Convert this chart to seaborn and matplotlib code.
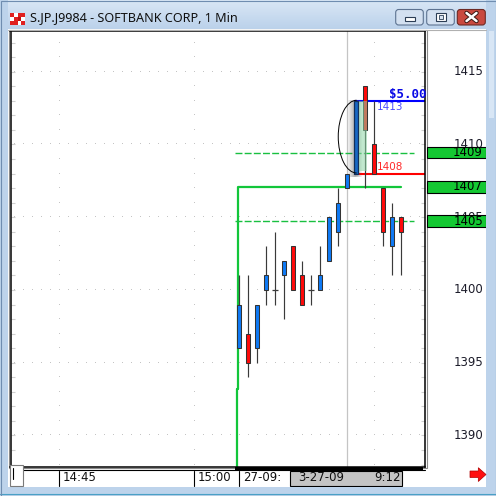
import matplotlib
matplotlib.use("Agg")
import matplotlib.pyplot as plt
import seaborn as sns
import numpy as np
from matplotlib.patches import Rectangle, Arc, Polygon, FancyBboxPatch
from matplotlib import transforms

# ---- 1-minute bars, 3-27-09 (bar 0 = 09:00) ----
bar_index = list(range(19))
opens  = [1396, 1397, 1396, 1400, 1400, 1401, 1403, 1401, 1400, 1400, 1402, 1404, 1407, 1408, 1414, 1410, 1407, 1403, 1405]
highs  = [1401, 1401, 1399, 1403, 1404, 1402, 1403, 1402, 1401, 1403, 1405, 1407, 1408, 1413, 1414, 1413, 1407, 1406, 1405]
lows   = [1396, 1394, 1395, 1399, 1399, 1398, 1400, 1399, 1399, 1400, 1402, 1403, 1407, 1408, 1407, 1408, 1403, 1401, 1401]
closes = [1399, 1395, 1399, 1401, 1400, 1402, 1400, 1399, 1400, 1401, 1405, 1406, 1408, 1413, 1411, 1408, 1404, 1405, 1404]
selected_bar = 13
cursor_bar = 12

# ---- study / order levels ----
avg_levels = [1409.44, 1404.72]          # dashed green studies
avg_span = [-0.48, 19.44]
stop_x = [-0.29, -0.29, -0.18, -0.18, 17.97]   # green trailing line
stop_y = [1387.0, 1393.2, 1393.2, 1407.1, 1407.1]
target_price = 1413
target_text = "$5.00"
entry_price = 1408
order_start = 12.9

# ---- axes labels ----
price_ticks = [1390, 1395, 1400, 1405, 1410, 1415]
time_ticks = [-20, -5, 0]
time_labels = ["14:45", "15:00", "27-09:"]
cursor_date, cursor_time = "3-27-09", "9:12"
title = "S.JP.J9984 - SOFTBANK CORP, 1 Min"

sns.set_style("white")
plt.rcParams["font.family"] = ["DejaVu Sans"]

W = H = 496
fig = plt.figure(figsize=(W / 100, H / 100), dpi=100)
fig.patch.set_facecolor("white")


def px_rect(x0, y0, x1, y1, z=1, **kw):
    kw.setdefault("lw", 0)
    r = Rectangle((x0 / W, 1 - y1 / H), (x1 - x0) / W, (y1 - y0) / H,
                  transform=fig.transFigure, zorder=z, **kw)
    fig.patches.append(r)
    return r


def px_line(xs, ys, z=2, **kw):
    fig.lines.append(plt.Line2D([x / W for x in xs], [1 - y / H for y in ys],
                                transform=fig.transFigure, zorder=z, **kw))


# ---------- window chrome ----------
frame_col = "#bdd3eb"
top_c = np.array([0xd8, 0xe6, 0xf5]) / 255
bot_c = np.array([0xbb, 0xd1, 0xea]) / 255
for i in range(29):
    t = i / 28
    px_rect(0, i, W, i + 1, color=tuple(top_c * (1 - t) + bot_c * t))
px_rect(0, 0, 8, H, color=frame_col)
px_rect(486, 0, W, H, color=frame_col)
px_rect(0, 487, W, H, color=frame_col)
px_rect(488.5, 31, 493.5, 118, color="#d8e6f5")
px_line([0, W], [493.8, 493.8], color="#4aa0c6", lw=0.8)
px_rect(0.5, 0.5, W - 0.5, H - 0.5, fill=False, lw=0.8, edgecolor="#6f8db0", z=3)
px_line([8, 486], [29.6, 29.6], color="#b0b0b0", lw=0.8)

# title icon
for (ix, iy, c) in [(10, 13, "#e02020"), (14, 13, "#ffffff"), (18, 13, "#e02020"), (21, 13, "#e02020"),
                    (10, 17, "#ffffff"), (14, 17, "#e02020"), (18, 17, "#c01010"), (21, 17, "#ffffff"),
                    (10, 21, "#e02020"), (14, 21, "#e02020"), (18, 21, "#ffffff"), (21, 21, "#e02020")]:
    px_rect(ix, iy, ix + 3.5, iy + 3.5, color=c, z=3)
fig.text(30 / W, 1 - 17.5 / H, title, fontsize=9.1, family="Noto Sans",
         color="#101010", va="center", ha="left")

# caption buttons
for (x0, x1, fc, ec) in [(395.7, 423.3, "#d3e0f0", "#5d7391"),
                         (426.7, 454.3, "#d3e0f0", "#5d7391"),
                         (457.3, 485.3, "#c9493f", "#6d2a24")]:
    b = FancyBboxPatch((x0 / W, 1 - 25 / H), (x1 - x0) / W, 15.5 / H,
                       boxstyle="round,pad=0,rounding_size=0.006",
                       transform=fig.transFigure, fc=fc, ec=ec, lw=0.8, zorder=3)
    fig.patches.append(b)
px_rect(404.5, 17, 414.5, 21, fc="white", ec="#2c3e55", lw=0.8, z=4)
px_rect(436, 12.5, 445.5, 21, fc="white", ec="#2c3e55", lw=0.8, z=4)
px_rect(438.5, 15.5, 443, 18.5, fc="#d7e3f1", ec="#2c3e55", lw=0.6, z=4)
px_line([466.5, 476.5], [13, 21], color="#3a1a16", lw=3.2, z=4)
px_line([466.5, 476.5], [21, 13], color="#3a1a16", lw=3.2, z=4)
px_line([466.5, 476.5], [13, 21], color="white", lw=1.8, z=5)
px_line([466.5, 476.5], [21, 13], color="white", lw=1.8, z=5)

# ---------- price pane ----------
x_left, x_right = 10.5, 425.5
y_top, y_bot = 31, 467
ax = fig.add_axes([x_left / W, 1 - y_bot / H, (x_right - x_left) / W, (y_bot - y_top) / H])
ax.set_facecolor("white")
ax.set_xlim(-25.42, 20.69)
ax.set_ylim(1387.835, 1417.80)
for s in ax.spines.values():
    s.set_color("black")
    s.set_linewidth(1.1)
px_rect(9.2, 29.9, 426.6, 468, fill=False, lw=0.8, edgecolor="#8a8a8a", z=-0.5)

ax.set_xticks([])
ax.set_yticks(price_ticks)
ax.set_yticks(np.arange(1388, 1418), minor=True)
ax.tick_params(axis="y", which="both", direction="in", length=3, width=0.8,
               color="#cfcfcf", left=True, right=True, labelleft=False, labelright=False)

# dotted grid (one dot per bar / per price unit)
grid_x = np.arange(-25, 21)
for p in price_ticks:
    ax.plot(grid_x, [p] * len(grid_x), ls="none", marker=",", color="#c4c4c4", zorder=0.5)
grid_p = np.arange(1388, 1418)
for k in [-20, -5, 15]:
    ax.plot([k] * len(grid_p), grid_p, ls="none", marker=",", color="#c4c4c4", zorder=0.5)

# cursor
ax.axvline(cursor_bar, color="#c4c4c4", lw=0.9, zorder=1)

# green trailing line and dashed studies
sns.lineplot(x=stop_x, y=stop_y, sort=False, estimator=None, color="#12c63a", lw=1.6, ax=ax, zorder=2)
for lvl in avg_levels:
    ax.plot(avg_span, [lvl, lvl], color="#19c040", lw=1.0, dashes=(5, 1.6), zorder=2)

# order lines
ax.plot([order_start, 22], [target_price] * 2, color="#0000ff", lw=1.5, zorder=2.5)
ax.plot([order_start, 22], [entry_price] * 2, color="#ff0000", lw=1.5, zorder=2.5)

# candles
blue, red, edge = "#0f7af5", "#ff0a0a", "#333333"
ax.vlines(bar_index, lows, highs, color="#3a3a3a", lw=0.85, zorder=3)
for k, o, c in zip(bar_index, opens, closes):
    if o == c:
        ax.hlines(o, k - 0.32, k + 0.32, color="#3a3a3a", lw=0.9, zorder=3.2)
        continue
    if k == selected_bar:
        continue
    ax.bar(k, abs(c - o), bottom=min(o, c), width=0.42, color=blue if c > o else red,
           edgecolor=edge, linewidth=0.75, zorder=3.1)

# highlighted bar: drop shadow, body, green glow
so, sc = opens[selected_bar], closes[selected_bar]
for i in range(7):
    ax.add_patch(Rectangle((selected_bar - 0.88 + i * 0.1, so - 0.25), 0.9, sc - so + 0.3,
                           color="#505050", alpha=0.07, lw=0, zorder=3.3))
ax.bar(selected_bar, sc - so, bottom=so, width=0.44, color="#1767c4",
       edgecolor="#12305a", linewidth=0.9, zorder=3.5)
ax.add_patch(Rectangle((selected_bar + 0.3, so + 0.2), 0.92, sc - so - 0.2,
                       color="#8fd6a6", alpha=0.55, lw=0, zorder=3.6))
ax.add_patch(Arc((selected_bar + 0.04, (so + sc) / 2 + 0.04), 4.09, sc - so,
                 theta1=90, theta2=270, color="black", lw=0.7, zorder=3.7))

# order labels
ax.text(20.8, target_price + 0.47, target_text, ha="right", va="center", fontsize=9,
        family="DejaVu Sans Mono", weight="bold", color="#0a0ae6", zorder=6, clip_on=False)
ax.text(15.33, target_price - 0.4, str(target_price), ha="left", va="center",
        fontsize=7.5, color="#4a4aff", zorder=6)
ax.text(15.33, entry_price + 0.47, str(entry_price), ha="left", va="center",
        fontsize=7.5, color="#ff2a2a", zorder=6)

# ---------- right price scale ----------
blend_y = transforms.blended_transform_factory(fig.transFigure, ax.transData)
for p in price_ticks:
    ax.text(483.5 / W, p, str(p), transform=blend_y, ha="right", va="center",
            fontsize=8.5, color="#1c1c2a", clip_on=False, zorder=6)
box_h = 11.7 / 14.55
for lvl in [avg_levels[0], stop_y[-1], avg_levels[1]]:
    ax.add_patch(Rectangle((427.3 / W, lvl - box_h / 2), 58.4 / W, box_h, transform=blend_y,
                           fc="#14c832", ec="black", lw=0.8, clip_on=False, zorder=7))
    ax.text(483 / W, lvl, str(round(lvl)), transform=blend_y, ha="right", va="center",
            fontsize=8.5, color="black", clip_on=False, zorder=8)

# ---------- time scale ----------
blend_x = transforms.blended_transform_factory(ax.transData, fig.transFigure)
px_line([23, 425], [469.5, 469.5], color="black", lw=0.8, z=2)
px_rect(235, 466.5, 423.3, 470, color="black", z=2)
for k, lab in zip(time_ticks, time_labels):
    ax.plot([k, k], [1 - 471 / H, 1 - 486 / H], transform=blend_x, color="black",
            lw=0.8, clip_on=False)
    ax.text(k + 0.38, 1 - 477.5 / H, lab, transform=blend_x, ha="left", va="center",
            fontsize=8.5, color="#101010", clip_on=False)
ax.add_patch(Rectangle((cursor_bar - 6.35, 1 - 485.5 / H), 12.45, 14.5 / H, transform=blend_x,
                       fc="#c4c4c4", ec="black", lw=0.8, clip_on=False, zorder=6))
ax.text(cursor_bar - 5.5, 1 - 477.5 / H, cursor_date, transform=blend_x, ha="left",
        va="center", fontsize=8.5, color="#101010", clip_on=False, zorder=7)
ax.text(cursor_bar + 5.9, 1 - 477.5 / H, cursor_time, transform=blend_x, ha="right",
        va="center", fontsize=8.5, color="#101010", clip_on=False, zorder=7)

# scroll box and arrow
px_rect(10, 465, 23.3, 485.5, fc="white", ec="#7a7a7a", lw=0.8, z=3)
px_line([12.7, 12.7], [468, 479], color="black", lw=0.8, z=4)
arrow = [(470, 471), (478.3, 471), (478.3, 467.7), (486, 474.5), (478.3, 481.5), (478.3, 477.5), (470, 477.5)]
fig.patches.append(Polygon([(x / W, 1 - y / H) for x, y in arrow], closed=True,
                           transform=fig.transFigure, fc="#ff1010", ec="#b00000", lw=0.5, zorder=3))

fig.savefig("out.png", dpi=100)
